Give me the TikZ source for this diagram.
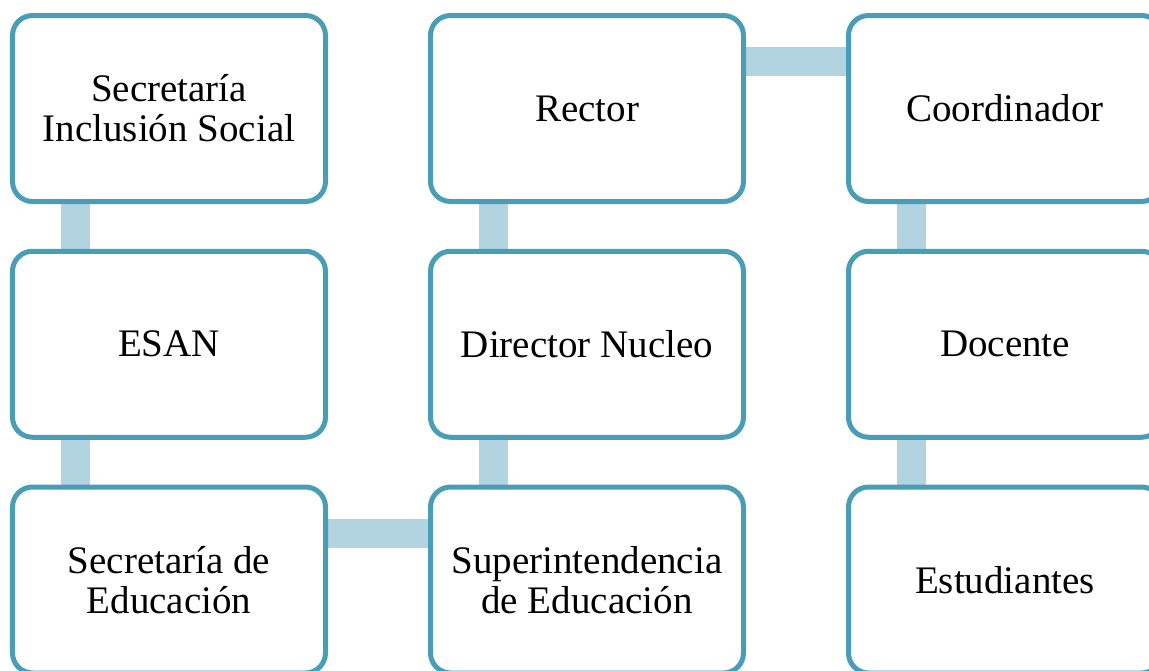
\documentclass[tikz,border=0pt]{standalone}
\usepackage{fontspec}
\setmainfont{Liberation Serif}
\usetikzlibrary{backgrounds}
\definecolor{boxline}{RGB}{74,157,182}
\definecolor{barfill}{RGB}{177,212,224}
\tikzstyle{box} = [rectangle, rounded corners=20pt, minimum width=313pt, minimum height=186pt, text centered, align=center, draw=boxline, line width=5pt, fill=white, font=\fontsize{39}{40}\selectfont]
\tikzstyle{link} = [draw=barfill, line width=29pt]

\begin{document}
\begin{tikzpicture}[node distance=235.75pt]
\useasboundingbox (-169pt,108.5pt) rectangle (980pt,-561.5pt);

\node (sis)[box]{Secretaría\\Inclusión Social};
\node (esan)[box,below of=sis]{ESAN};
\node (sed)[box,below of=esan]{Secretaría de\\Educación};
\node (sup)[box,right of=sed,xshift=182.25pt]{Superintendencia\\de Educación};
\node (dir)[box,above of=sup]{Director Nucleo};
\node (rector)[box,above of=dir]{Rector};
\node (coord)[box,right of=rector,xshift=182.25pt]{Coordinador};
\node (doc)[box,below of=coord]{Docente};
\node (est)[box,below of=doc]{Estudiantes};

\begin{scope}[on background layer]
\draw [link] ([xshift=65.5pt]sis.south west) -- ([xshift=65.5pt]esan.north west);
\draw [link] ([xshift=65.5pt]esan.south west) -- ([xshift=65.5pt]sed.north west);
\draw [link] ([yshift=-49pt]sed.north east) -- ([yshift=-49pt]sup.north west);
\draw [link] ([xshift=65.5pt]dir.south west) -- ([xshift=65.5pt]sup.north west);
\draw [link] ([xshift=65.5pt]rector.south west) -- ([xshift=65.5pt]dir.north west);
\draw [link] ([yshift=-48.5pt]rector.north east) -- ([yshift=-48.5pt]coord.north west);
\draw [link] ([xshift=65.5pt]coord.south west) -- ([xshift=65.5pt]doc.north west);
\draw [link] ([xshift=65.5pt]doc.south west) -- ([xshift=65.5pt]est.north west);
\end{scope}

\end{tikzpicture}
\end{document}
